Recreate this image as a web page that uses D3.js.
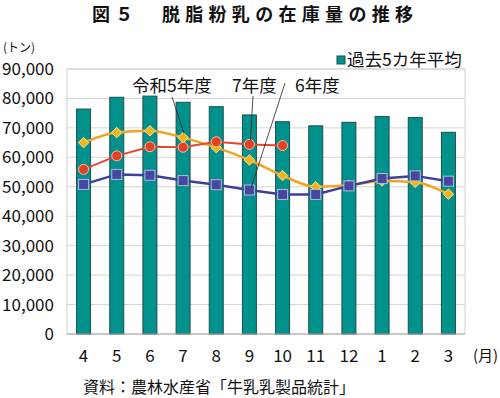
<!DOCTYPE html>
<html>
<head>
<meta charset="utf-8">
<script src="https://cdn.jsdelivr.net/npm/d3@7"></script>
<style>
  body { margin: 0; background: #fff; }
  svg text { font-family: "Noto Sans CJK JP", "Noto Sans", sans-serif; fill: #111; }
</style>
</head>
<body>
<svg width="500" height="398"></svg>
<script>
let months = ["4", "5", "6", "7", "8", "9", "10", "11", "12", "1", "2", "3"];
let avg5 = [76400, 80400, 80800, 78700, 77200, 74400, 72100, 70700, 71900, 73900, 73500, 68500];
let r5 = [65000, 68400, 69000, 66700, 63300, 59100, 53800, 50000, 50500, 52000, 51500, 47500];
let r6 = [50800, 54200, 53900, 52100, 50700, 48900, 47400, 47400, 50300, 52800, 53700, 51900];
let r7 = [55900, 60500, 63600, 63400, 65300, 64400, 64000];
let yTicks = [0, 10000, 20000, 30000, 40000, 50000, 60000, 70000, 80000, 90000];

let svg = d3.select("svg");
let plotLeft = 67, plotRight = 465, plotTop = 69, plotBottom = 334;

let x = d3.scaleBand().domain(months).range([plotLeft, plotRight]);
let y = d3.scaleLinear().domain([0, 90000]).range([plotBottom, plotTop]);
let cx = m => x(m) + x.bandwidth() / 2;

// title
svg.append("text")
    .attr("x", 92).attr("y", 21)
    .attr("textLength", 321)
    .style("font-size", "18px").style("font-weight", "bold")
    .text("図５　脱脂粉乳の在庫量の推移");

// grid
svg.append("g").selectAll("line")
    .data(yTicks.slice(1)).enter().append("line")
        .attr("x1", plotLeft).attr("x2", plotRight)
        .attr("y1", d => y(d)).attr("y2", d => y(d))
        .attr("stroke", "#d4d4d4").attr("stroke-width", 1);

svg.append("rect")
    .attr("x", plotLeft).attr("y", plotTop)
    .attr("width", plotRight - plotLeft).attr("height", plotBottom - plotTop)
    .attr("fill", "none").attr("stroke", "#cfcfcf");

// y axis labels
svg.append("g").selectAll("text")
    .data(yTicks).enter().append("text")
        .attr("x", 54).attr("y", d => y(d) + 6)
        .attr("text-anchor", "end")
        .style("font-size", "17px")
        .text(d => d3.format(",")(d));

svg.append("text").attr("x", 3).attr("y", 52)
    .style("font-size", "12px").text("(トン)");

// bars
let barW = 14;
svg.append("g").selectAll("rect")
    .data(avg5).enter().append("rect")
        .attr("x", (d, i) => cx(months[i]) - barW / 2)
        .attr("y", d => y(d))
        .attr("width", barW)
        .attr("height", d => plotBottom - y(d))
        .attr("fill", "#00918c")
        .attr("stroke", "#1e4f4d").attr("stroke-width", 1);

// axis baseline
svg.append("line")
    .attr("x1", plotLeft).attr("x2", plotRight)
    .attr("y1", plotBottom).attr("y2", plotBottom)
    .attr("stroke", "#a8a8a8");

// x labels
svg.append("g").selectAll("text")
    .data(months).enter().append("text")
        .attr("x", d => cx(d)).attr("y", 362)
        .attr("text-anchor", "middle")
        .style("font-size", "17px")
        .text(d => d);
svg.append("text").attr("x", 473).attr("y", 361)
    .style("font-size", "15px").text("(月)");

// lines
function drawLine(data, color, width, curve) {
    let line = d3.line()
        .x((d, i) => cx(months[i]))
        .y(d => y(d))
        .curve(curve);
    svg.append("path")
        .datum(data)
        .attr("d", line)
        .attr("fill", "none")
        .attr("stroke", color)
        .attr("stroke-width", width);
}

drawLine(r5, "#f0a424", 2.5, d3.curveMonotoneX);
drawLine(r6, "#3e3f9a", 2.5, d3.curveLinear);
drawLine(r7, "#e8462a", 2, d3.curveLinear);

// markers
svg.append("g").selectAll("path")
    .data(r5).enter().append("path")
        .attr("transform", (d, i) => `translate(${cx(months[i])},${y(d)})`)
        .attr("d", d3.symbol().type(d3.symbolDiamond2).size(70))
        .attr("fill", "#f5b417")
        .attr("stroke", "#fbe2a8").attr("stroke-width", 1);

svg.append("g").selectAll("rect")
    .data(r6).enter().append("rect")
        .attr("x", (d, i) => cx(months[i]) - 5)
        .attr("y", d => y(d) - 5)
        .attr("width", 10).attr("height", 10)
        .attr("fill", "#47479f")
        .attr("stroke", "#b5b9e0").attr("stroke-width", 1);

svg.append("g").selectAll("circle")
    .data(r7).enter().append("circle")
        .attr("cx", (d, i) => cx(months[i]))
        .attr("cy", d => y(d))
        .attr("r", 5)
        .attr("fill", "#e5401f")
        .attr("stroke", "#f6c0b0").attr("stroke-width", 1);

// legend
svg.append("rect").attr("x", 337).attr("y", 56)
    .attr("width", 8).attr("height", 8)
    .attr("fill", "#00918c").attr("stroke", "#1e4f4d");
svg.append("text").attr("x", 347).attr("y", 66)
    .style("font-size", "17.5px").text("過去5カ年平均");

// annotations
let labels = [
    {text: "令和5年度", x: 132, y: 92, from: [172, 97], to: [cx("7") + 1, y(r5[3]) - 4]},
    {text: "7年度", x: 232, y: 92, from: [253, 96], to: [cx("9") + 1, y(r7[5]) - 4]},
    {text: "6年度", x: 295, y: 92, from: [285, 83], to: [cx("9") + 2, y(r6[5]) - 3]}
];

svg.append("g").selectAll("line")
    .data(labels).enter().append("line")
        .attr("x1", d => d.from[0]).attr("y1", d => d.from[1])
        .attr("x2", d => d.to[0]).attr("y2", d => d.to[1])
        .attr("stroke", "#222").attr("stroke-width", 0.8);

svg.append("g").selectAll("text")
    .data(labels).enter().append("text")
        .attr("x", d => d.x).attr("y", d => d.y)
        .style("font-size", "17.5px")
        .text(d => d.text);

// source
svg.append("text").attr("x", 83).attr("y", 393)
    .style("font-size", "16px").text("資料：農林水産省「牛乳乳製品統計」");
</script>
</body>
</html>
